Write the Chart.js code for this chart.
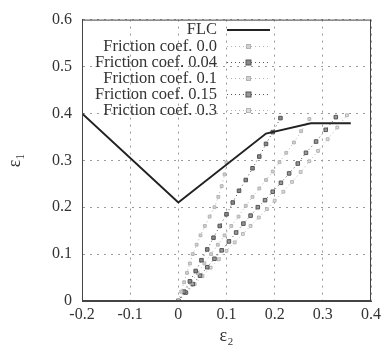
<!DOCTYPE html>
<html>
<head>
<meta charset="utf-8">
<script src="https://cdn.jsdelivr.net/npm/chart.js@4/dist/chart.umd.min.js"></script>
<style>
  html, body { margin: 0; padding: 0; background: #fff; }
  #wrap { width: 385px; height: 347px; }
</style>
</head>
<body>
<div id="wrap"><canvas id="chart"></canvas></div>
<script>
// tick labels
var xTickLabels = ['-0.2', '-0.1', '0', '0.1', '0.2', '0.3', '0.4'];
var yTickLabels = ['0', '0.1', '0.2', '0.3', '0.4', '0.5', '0.6'];

// forming limit curve (eps2, eps1)
var flcX = [-0.2, 0.0, 0.182, 0.275, 0.358];
var flcY = [0.40, 0.21, 0.357, 0.379, 0.379];

// strain paths for each friction coefficient
var mu00X = [0, 0.006, 0.012, 0.018, 0.024, 0.030, 0.038, 0.046, 0.055, 0.065, 0.075, 0.083, 0.090, 0.096, 0.100];
var mu00Y = [0, 0.020, 0.040, 0.060, 0.080, 0.100, 0.120, 0.140, 0.160, 0.180, 0.200, 0.222, 0.245, 0.270, 0.295];

var mu004X = [0, 0.012, 0.024, 0.036, 0.048, 0.060, 0.073, 0.086, 0.100, 0.113, 0.126, 0.140, 0.154, 0.168, 0.182, 0.196, 0.212];
var mu004Y = [0, 0.020, 0.042, 0.064, 0.087, 0.110, 0.135, 0.160, 0.185, 0.210, 0.235, 0.258, 0.283, 0.308, 0.335, 0.360, 0.390];

var mu01X = [0, 0.013, 0.026, 0.040, 0.054, 0.068, 0.082, 0.096, 0.110, 0.125, 0.140, 0.154, 0.168, 0.182, 0.196, 0.210, 0.224, 0.240, 0.255, 0.272];
var mu01Y = [0, 0.019, 0.039, 0.060, 0.080, 0.100, 0.120, 0.140, 0.160, 0.180, 0.203, 0.222, 0.240, 0.258, 0.276, 0.296, 0.316, 0.338, 0.362, 0.388];

var mu015X = [0, 0.015, 0.030, 0.045, 0.060, 0.075, 0.090, 0.105, 0.120, 0.135, 0.150, 0.165, 0.180, 0.196, 0.213, 0.230, 0.248, 0.265, 0.286, 0.306, 0.327];
var mu015Y = [0, 0.018, 0.036, 0.054, 0.072, 0.090, 0.108, 0.127, 0.146, 0.165, 0.182, 0.200, 0.215, 0.233, 0.252, 0.272, 0.293, 0.316, 0.340, 0.365, 0.392];

var mu03X = [0, 0.017, 0.034, 0.050, 0.067, 0.084, 0.100, 0.117, 0.134, 0.150, 0.167, 0.184, 0.200, 0.218, 0.236, 0.254, 0.272, 0.290, 0.310, 0.330, 0.350];
var mu03Y = [0, 0.018, 0.036, 0.053, 0.071, 0.089, 0.107, 0.125, 0.143, 0.160, 0.178, 0.196, 0.214, 0.233, 0.254, 0.275, 0.298, 0.320, 0.345, 0.370, 0.396];

var seriesNames = ['FLC', 'Friction coef. 0.0', 'Friction coef. 0.04', 'Friction coef. 0.1', 'Friction coef. 0.15', 'Friction coef. 0.3'];

function pts(xs, ys) {
  return xs.map(function (x, i) { return {x: x, y: ys[i]}; });
}

var dark = '#555555';
var light = '#b4b4b4';
var serif = '"Liberation Serif", "DejaVu Serif", serif';

function pathSet(label, xs, ys, color, fill, r) {
  return {
    label: label,
    data: pts(xs, ys),
    showLine: true,
    borderColor: color,
    borderWidth: 1,
    borderDash: [1, 3],
    pointStyle: 'rect',
    pointRadius: r,
    pointBackgroundColor: fill,
    pointBorderColor: color,
    pointBorderWidth: 1
  };
}

// legend inside the plot: text right aligned, sample to the right
var insideLegend = {
  id: 'insideLegend',
  afterDatasetsDraw: function (chart) {
    var ctx = chart.ctx;
    var area = chart.chartArea;
    ctx.save();
    // frame around plot
    ctx.strokeStyle = '#444';
    ctx.lineWidth = 1;
    ctx.strokeRect(area.left + 0.5, area.top + 0.5, area.right - area.left - 1, area.bottom - area.top - 1);

    ctx.font = '16.5px ' + serif;
    ctx.textAlign = 'right';
    ctx.textBaseline = 'middle';
    var textRight = 217, x0 = 227, x1 = 270;
    var rows = [30, 46.5, 62.5, 78.5, 94.5, 110.5];
    chart.data.datasets.forEach(function (ds, i) {
      var y = rows[i];
      ctx.fillStyle = '#333';
      ctx.fillText(seriesNames[i], textRight, y);
      ctx.strokeStyle = ds.borderColor;
      ctx.lineWidth = ds.borderWidth;
      ctx.setLineDash(ds.borderDash || []);
      ctx.beginPath();
      ctx.moveTo(x0, y);
      ctx.lineTo(x1, y);
      ctx.stroke();
      ctx.setLineDash([]);
      if (ds.pointRadius) {
        var r = ds.pointRadius;
        var cx = (x0 + x1) / 2;
        ctx.fillStyle = ds.pointBackgroundColor;
        ctx.fillRect(cx - r, y - r, 2 * r, 2 * r);
        ctx.strokeStyle = ds.pointBorderColor;
        ctx.strokeRect(cx - r, y - r, 2 * r, 2 * r);
      }
    });
    ctx.restore();
  }
};

new Chart(document.getElementById('chart'), {
  type: 'scatter',
  data: {
    datasets: [
      {
        label: seriesNames[0],
        data: pts(flcX, flcY),
        showLine: true,
        borderColor: '#222',
        borderWidth: 2,
        pointRadius: 0
      },
      pathSet(seriesNames[1], mu00X, mu00Y, light, '#d0d0d0', 2),
      pathSet(seriesNames[2], mu004X, mu004Y, dark, '#888', 2.5),
      pathSet(seriesNames[3], mu01X, mu01Y, light, '#d0d0d0', 2),
      pathSet(seriesNames[4], mu015X, mu015Y, dark, '#999', 2.5),
      pathSet(seriesNames[5], mu03X, mu03Y, light, '#dddddd', 2)
    ]
  },
  options: {
    responsive: true,
    maintainAspectRatio: false,
    animation: false,
    layout: { padding: { left: 0, top: 17, right: 13, bottom: 0 } },
    plugins: {
      legend: { display: false },
      tooltip: { enabled: false }
    },
    scales: {
      x: {
        type: 'linear',
        min: -0.2,
        max: 0.4,
        afterFit: function (scale) { scale.height = 46; },
        ticks: {
          stepSize: 0.1,
          padding: 4,
          color: '#333',
          font: { family: serif, size: 16 },
          callback: function (v, i) { return xTickLabels[i]; }
        },
        grid: { color: '#9a9a9a', lineWidth: 1, drawTicks: false },
        border: { color: '#444', dash: [2, 5] },
        title: {
          display: true,
          text: 'ε₂',
          color: '#333',
          padding: 0,
          font: { family: serif, size: 18 }
        }
      },
      y: {
        type: 'linear',
        min: 0,
        max: 0.6,
        afterFit: function (scale) { scale.width = 82; },
        ticks: {
          stepSize: 0.1,
          padding: 10,
          color: '#333',
          font: { family: serif, size: 16 },
          callback: function (v, i) { return yTickLabels[i]; }
        },
        grid: { color: '#9a9a9a', lineWidth: 1, drawTicks: false },
        border: { color: '#444', dash: [2, 5] },
        title: {
          display: true,
          text: 'ε₁',
          color: '#333',
          padding: 4,
          font: { family: serif, size: 18 }
        }
      }
    }
  },
  plugins: [insideLegend]
});
</script>
</body>
</html>
